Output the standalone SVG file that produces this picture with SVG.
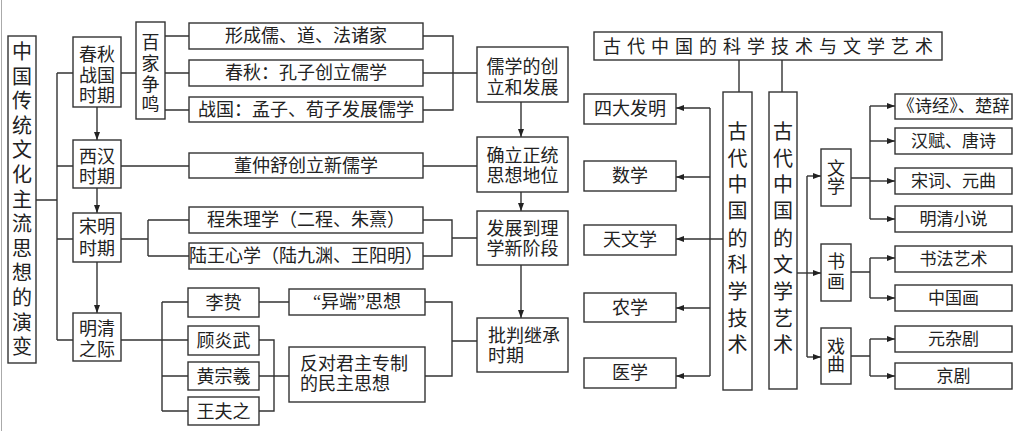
<svg xmlns="http://www.w3.org/2000/svg" width="1021" height="431" viewBox="0 0 1021 431">
<style>
.b{fill:#fff;stroke:#333;stroke-width:1.4}
.t{font-family:"Liberation Serif","Noto Sans CJK SC",serif;fill:#222;font-size:18px;text-anchor:middle}
.s{font-size:17px}
.v{font-size:20px}
.c{fill:none;stroke:#333;stroke-width:1.4}
.a{fill:none;stroke:#333;stroke-width:1.4;marker-end:url(#ar)}
</style>
<defs>
<marker id="ar" viewBox="0 0 8 6" refX="8" refY="3" markerWidth="8" markerHeight="6" markerUnits="userSpaceOnUse" orient="auto">
<path d="M0,0L8,3L0,6z" fill="#222"/>
</marker>
</defs>
<rect width="1021" height="431" fill="#fff"/>
<line x1="1.5" y1="0" x2="1.5" y2="431" stroke="#aaa" stroke-width="1"/>

<g id="connectors">
<path class="c" d="M36,200H57M57,73V340M57,73H73M57,166H73M57,239H73M57,340H73M121,73H136"/>
<path class="a" d="M97,107V140"/>
<path class="a" d="M97,188V213"/>
<path class="a" d="M97,262V313"/>
<path class="c" d="M165,36H189M165,73H189M165,110H189"/>
<path class="c" d="M121,166H189M423,166H477"/>
<path class="c" d="M121,239H148M148,220V256M148,220H189M148,256H189"/>
<path class="c" d="M121,340H162M162,302V411M162,302H188M162,340H188M162,376H188M162,411H188"/>
<path class="c" d="M259,302H289M259,340H274V411H259M259,376H289"/>
<path class="c" d="M423,36H453V110H423M423,73H477"/>
<path class="c" d="M423,220H452V256H423M452,238H477"/>
<path class="c" d="M425,302H452V376H425M452,341H477"/>
<path class="a" d="M521,102V137"/>
<path class="a" d="M521,192V211"/>
<path class="a" d="M521,265V318"/>
<path class="c" d="M739,60V92M782,60V92M710,108V376"/>
<path class="a" d="M710,108H676"/>
<path class="a" d="M710,177H676"/>
<path class="a" d="M723,239H676"/>
<path class="a" d="M710,308H676"/>
<path class="a" d="M710,376H676"/>
<path class="c" d="M807,176V357"/>
<path class="a" d="M807,176H821"/>
<path class="a" d="M797,273H821"/>
<path class="a" d="M807,357H821"/>
<path class="c" d="M851,178H870M870,106V219"/>
<path class="a" d="M870,106H895"/>
<path class="a" d="M870,141H895"/>
<path class="a" d="M870,181H895"/>
<path class="a" d="M870,219H895"/>
<path class="c" d="M851,272H870M870,258V298"/>
<path class="a" d="M870,258H895"/>
<path class="a" d="M870,298H895"/>
<path class="c" d="M851,356H870M870,339V376"/>
<path class="a" d="M870,339H895"/>
<path class="a" d="M870,376H895"/>
</g>

<g id="main">
<rect class="b" x="8" y="36" width="28" height="327"/>
<text class="t v"><tspan x="22" y="59">中</tspan><tspan x="22" y="84">国</tspan><tspan x="22" y="108">传</tspan><tspan x="22" y="133">统</tspan><tspan x="22" y="157">文</tspan><tspan x="22" y="182">化</tspan><tspan x="22" y="207">主</tspan><tspan x="22" y="231">流</tspan><tspan x="22" y="256">思</tspan><tspan x="22" y="280">想</tspan><tspan x="22" y="305">的</tspan><tspan x="22" y="330">演</tspan><tspan x="22" y="354">变</tspan></text>
</g>

<g id="chunqiu">
<rect class="b" x="73" y="37" width="48" height="70"/>
<text class="t"><tspan x="97" y="61">春秋</tspan><tspan x="97" y="82">战国</tspan><tspan x="97" y="102">时期</tspan></text>
</g>
<g id="baijia">
<rect class="b" x="136" y="22" width="29" height="97"/>
<text class="t"><tspan x="150.5" y="49">百</tspan><tspan x="150.5" y="70">家</tspan><tspan x="150.5" y="91">争</tspan><tspan x="150.5" y="111">鸣</tspan></text>
</g>
<g id="xihan">
<rect class="b" x="73" y="140" width="48" height="48"/>
<text class="t"><tspan x="97" y="163">西汉</tspan><tspan x="97" y="183">时期</tspan></text>
</g>
<g id="songming">
<rect class="b" x="73" y="213" width="48" height="49"/>
<text class="t"><tspan x="97" y="233">宋明</tspan><tspan x="97" y="255">时期</tspan></text>
</g>
<g id="mingqing">
<rect class="b" x="73" y="313" width="48" height="48"/>
<text class="t"><tspan x="97" y="335">明清</tspan><tspan x="97" y="356">之际</tspan></text>
</g>

<g id="n1"><rect class="b" x="189" y="23" width="234" height="26"/><text class="t" x="306" y="42">形成儒、道、法诸家</text></g>
<g id="n2"><rect class="b" x="189" y="60" width="234" height="26"/><text class="t" x="306" y="79">春秋：孔子创立儒学</text></g>
<g id="n3"><rect class="b" x="189" y="97" width="234" height="25"/><text class="t" x="306" y="116">战国：孟子、荀子发展儒学</text></g>
<g id="n4"><rect class="b" x="189" y="153" width="234" height="25"/><text class="t" x="306" y="172">董仲舒创立新儒学</text></g>
<g id="n5"><rect class="b" x="189" y="207" width="234" height="26"/><text class="t" x="306" y="226">程朱理学（二程、朱熹）</text></g>
<g id="n6"><rect class="b" x="189" y="243" width="234" height="26"/><text class="t" x="306" y="262">陆王心学（陆九渊、王阳明）</text></g>
<g id="n7"><rect class="b" x="188" y="288" width="71" height="29"/><text class="t" x="223.5" y="309">李贽</text></g>
<g id="n8"><rect class="b" x="188" y="326" width="71" height="29"/><text class="t" x="223.5" y="347">顾炎武</text></g>
<g id="n9"><rect class="b" x="188" y="362" width="71" height="28"/><text class="t" x="223.5" y="383">黄宗羲</text></g>
<g id="n10"><rect class="b" x="188" y="397" width="71" height="28"/><text class="t" x="223.5" y="418">王夫之</text></g>
<g id="n11"><rect class="b" x="289" y="289" width="136" height="26"/><text class="t" x="357" y="308">“异端”思想</text></g>
<g id="n12"><rect class="b" x="289" y="347" width="136" height="55"/><text class="t" style="text-anchor:start"><tspan x="300" y="370">反对君主专制</tspan><tspan x="300" y="390">的民主思想</tspan></text></g>

<g id="r1"><rect class="b" x="477" y="47" width="91" height="55"/><text class="t"><tspan x="522.5" y="73">儒学的创</tspan><tspan x="522.5" y="94">立和发展</tspan></text></g>
<g id="r2"><rect class="b" x="477" y="137" width="91" height="55"/><text class="t"><tspan x="522.5" y="162">确立正统</tspan><tspan x="522.5" y="182">思想地位</tspan></text></g>
<g id="r3"><rect class="b" x="477" y="211" width="91" height="54"/><text class="t"><tspan x="522.5" y="235">发展到理</tspan><tspan x="522.5" y="255">学新阶段</tspan></text></g>
<g id="r4"><rect class="b" x="477" y="318" width="91" height="54"/><text class="t" style="text-anchor:start"><tspan x="488" y="342">批判继承</tspan><tspan x="488" y="362">时期</tspan></text></g>

<g id="title"><rect class="b" x="594" y="32" width="348" height="28"/><text class="t" x="768" y="53" textLength="330" lengthAdjust="spacing">古代中国的科学技术与文学艺术</text></g>

<g id="sci">
<rect class="b" x="723" y="92" width="29" height="298"/>
<text class="t v"><tspan x="737.5" y="139">古</tspan><tspan x="737.5" y="166">代</tspan><tspan x="737.5" y="192">中</tspan><tspan x="737.5" y="218">国</tspan><tspan x="737.5" y="246">的</tspan><tspan x="737.5" y="272">科</tspan><tspan x="737.5" y="299">学</tspan><tspan x="737.5" y="326">技</tspan><tspan x="737.5" y="352">术</tspan></text>
</g>
<g id="art">
<rect class="b" x="769" y="92" width="28" height="297"/>
<text class="t v"><tspan x="783" y="139">古</tspan><tspan x="783" y="166">代</tspan><tspan x="783" y="192">中</tspan><tspan x="783" y="218">国</tspan><tspan x="783" y="246">的</tspan><tspan x="783" y="272">文</tspan><tspan x="783" y="299">学</tspan><tspan x="783" y="326">艺</tspan><tspan x="783" y="352">术</tspan></text>
</g>

<g id="s1"><rect class="b" x="584" y="94" width="92" height="30"/><text class="t" x="630" y="115">四大发明</text></g>
<g id="s2"><rect class="b" x="584" y="161" width="92" height="30"/><text class="t" x="630" y="182">数学</text></g>
<g id="s3"><rect class="b" x="584" y="225" width="92" height="30"/><text class="t" x="630" y="246">天文学</text></g>
<g id="s4"><rect class="b" x="584" y="293" width="92" height="29"/><text class="t" x="630" y="314">农学</text></g>
<g id="s5"><rect class="b" x="584" y="358" width="92" height="30"/><text class="t" x="630" y="379">医学</text></g>

<g id="wenxue"><rect class="b" x="821" y="149" width="30" height="57"/><text class="t"><tspan x="836" y="175">文</tspan><tspan x="836" y="193">学</tspan></text></g>
<g id="shuhua"><rect class="b" x="821" y="244" width="30" height="57"/><text class="t"><tspan x="836" y="268">书</tspan><tspan x="836" y="288">画</tspan></text></g>
<g id="xiqu"><rect class="b" x="821" y="328" width="30" height="56"/><text class="t"><tspan x="836" y="353">戏</tspan><tspan x="836" y="371">曲</tspan></text></g>

<g id="a1"><rect class="b" x="895" y="94" width="117" height="25"/><text class="t s" x="953.5" y="112" textLength="112" lengthAdjust="spacingAndGlyphs">《诗经》、楚辞</text></g>
<g id="a2"><rect class="b" x="895" y="128" width="117" height="26"/><text class="t s" x="953.5" y="147">汉赋、唐诗</text></g>
<g id="a3"><rect class="b" x="895" y="168" width="117" height="26"/><text class="t s" x="953.5" y="187">宋词、元曲</text></g>
<g id="a4"><rect class="b" x="895" y="206" width="117" height="26"/><text class="t s" x="953.5" y="225">明清小说</text></g>
<g id="a5"><rect class="b" x="895" y="246" width="117" height="26"/><text class="t s" x="953.5" y="265">书法艺术</text></g>
<g id="a6"><rect class="b" x="895" y="285" width="117" height="26"/><text class="t s" x="953.5" y="304">中国画</text></g>
<g id="a7"><rect class="b" x="895" y="326" width="117" height="26"/><text class="t s" x="953.5" y="345">元杂剧</text></g>
<g id="a8"><rect class="b" x="895" y="363" width="117" height="26"/><text class="t s" x="953.5" y="382">京剧</text></g>
</svg>
